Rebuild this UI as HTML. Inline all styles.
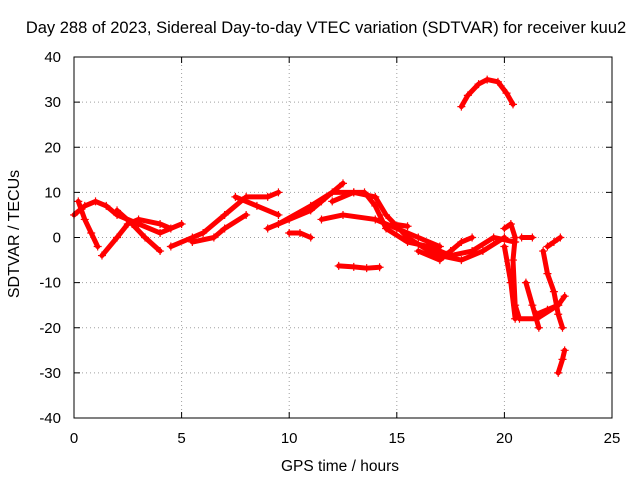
<!DOCTYPE html>
<html><head><meta charset="utf-8">
<style>
html,body{margin:0;padding:0;background:#fff;}
svg{display:block;font-family:"Liberation Sans",sans-serif;}
</style></head>
<body>
<svg id="chart" width="640" height="480" viewBox="0 0 640 480">
<rect width="640" height="480" fill="#fff"/>
<text x="326" y="33" text-anchor="middle" font-size="16.5">Day 288 of 2023, Sidereal Day-to-day VTEC variation (SDTVAR) for receiver kuu2</text>
<text x="340" y="471" text-anchor="middle" font-size="15.5">GPS time / hours</text>
<text transform="translate(19,234) rotate(-90)" text-anchor="middle" font-size="16">SDTVAR / TECUs</text>
<g id="grid"></g>
<g id="ticks"></g>
<g id="marks"></g>
<rect x="74" y="57" width="538" height="361" fill="none" stroke="#000" stroke-width="1"/>
</svg>
<script>
const xTicks = [0,5,10,15,20,25];
const yTicks = [-40,-30,-20,-10,0,10,20,30,40];
const track1 = [[18.0,29],[18.3,31.5],[18.8,34],[19.2,35],[19.7,34.5],[20.1,32],[20.4,29.5]];
const track2 = [[12.3,-6.3],[13.0,-6.5],[13.6,-6.8],[14.2,-6.6]];
const track3 = [[0.2,8],[0.5,4],[0.8,1],[1.1,-2]];
const track4 = [[0,5],[0.5,7],[1,8],[1.5,7],[2,5],[3,3],[4,1],[5,3]];
const track5 = [[1.3,-4],[2,0],[2.5,3],[3,4],[4,3],[4.5,2]];
const track6 = [[2,6],[2.7,3],[3.3,0],[4,-3]];
const track7 = [[4.5,-2],[5.5,0],[6,1],[7,5],[8,9],[9,9],[9.5,10]];
const track8 = [[5.5,-1],[6.5,0],[7,2],[8,5]];
const track9 = [[7.5,9],[8.5,7],[9.5,5]];
const track10 = [[9,2],[10,4],[11,6],[11.5,8],[12.5,12]];
const track11 = [[10,1],[10.5,1],[11,0]];
const track12 = [[9.5,3],[11,7],[12,10],[13,10],[14,9],[14.5,5],[15.5,0],[16.5,-3],[17,-4],[18,-5],[19,-3],[20,0]];
const track13 = [[11.5,4],[12.5,5],[14,4],[15,2],[16,0],[17,-2]];
const track14 = [[12,8],[13,10],[13.5,10],[14,7],[14.5,2],[15.5,-1],[16.5,-2],[17.5,-4],[18.5,-3],[19.5,0],[20.5,-1]];
const track15 = [[16,-3],[17,-5],[17.5,-3],[18,-1],[18.5,0]];
const track16 = [[14.8,3],[15.5,2.5]];
const track17 = [[20,2],[20.3,3],[20.5,0],[20.4,-5],[20.5,-15],[20.7,-18],[21.5,-18],[22.5,-15],[22.8,-13]];
const track18 = [[20.0,-2],[20.3,-10],[20.5,-18]];
const track19 = [[21,-10],[21.3,-15],[21.6,-20]];
const track20 = [[20.8,0],[21.3,0]];
const track21 = [[22.0,-2],[22.3,-1],[22.6,0]];
const track22 = [[21.8,-3],[22,-8],[22.3,-12],[22.5,-17],[22.7,-20]];
const track23 = [[22.5,-30],[22.7,-27],[22.8,-25]];
const track24 = [[21.5,-17],[22,-16],[22.5,-15]];
const tracks = [track1,track2,track3,track4,track5,track6,track7,track8,track9,track10,track11,track12,track13,track14,track15,track16,track17,track18,track19,track20,track21,track22,track23,track24];

const NS='http://www.w3.org/2000/svg';
const X0=74,X1=612,Y0=418,Y1=57;
function xs(t){return X0+(t-0)/(25-0)*(X1-X0);}
function ys(v){return Y0-(v+40)/80*(Y0-Y1);}
const grid=document.getElementById('grid'), ticks=document.getElementById('ticks'), marks=document.getElementById('marks');
function mk(tag,attrs,parent){const e=document.createElementNS(NS,tag);for(const k in attrs)e.setAttribute(k,attrs[k]);parent.appendChild(e);return e;}
xTicks.forEach(t=>{
  const x=xs(t);
  if(t>0&&t<25){const g=mk('line',{x1:x,x2:x,y1:Y0,y2:Y1,stroke:'#a0a0a0','stroke-dasharray':'1,3'},grid);
  
  }
  mk('line',{x1:x,x2:x,y1:Y0,y2:Y0-6,stroke:'#000'},ticks);
  mk('line',{x1:x,x2:x,y1:Y1,y2:Y1+6,stroke:'#000'},ticks);
  const l=mk('text',{x:x,y:443,'text-anchor':'middle','font-size':15},ticks);
  l.textContent=t;
  
  
});
yTicks.forEach(v=>{
  const y=ys(v);
  if(v>-40&&v<40){const g=mk('line',{x1:X0,x2:X1,y1:y,y2:y,stroke:'#a0a0a0','stroke-dasharray':'1,3'},grid);
  
  }
  mk('line',{x1:X0,x2:X0+6,y1:y,y2:y,stroke:'#000'},ticks);
  mk('line',{x1:X1,x2:X1-6,y1:y,y2:y,stroke:'#000'},ticks);
  const l=mk('text',{x:61,y:y+5,'text-anchor':'end','font-size':15},ticks);
  l.textContent=v;
  
  
});
tracks.forEach((tr,i)=>{
  const p=mk('polyline',{points:tr.map(d=>xs(d[0])+','+ys(d[1])).join(' '),fill:'none',stroke:'#ff0000','stroke-width':5,'stroke-linejoin':'round','stroke-linecap':'round'},marks);
  
  
  tr.forEach(d=>{
    const x=xs(d[0]),y=ys(d[1]);
    const m=mk('path',{d:`M${x-4},${y}H${x+4}M${x},${y-4}V${y+4}`,stroke:'#ff0000','stroke-width':1.2},marks);
    
    
  });
});
</script>
</body></html>
